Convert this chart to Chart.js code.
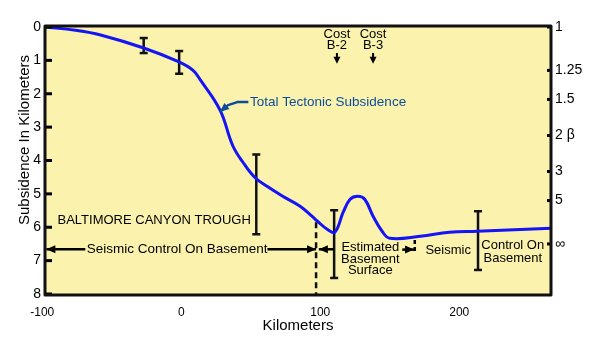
<!DOCTYPE html>
<html><head><meta charset="utf-8">
<script src="https://cdn.jsdelivr.net/npm/chart.js@4.4.1/dist/chart.umd.min.js"></script>
<style>html,body{margin:0;padding:0;background:#fff}#wrap{width:599px;height:355px}</style>
</head><body><div id="wrap"><canvas id="c" width="599" height="355"></canvas></div>
<script>
// ---- data ----
const distanceKm   = [-98, -76, -58, -27, -2, 8.5, 14, 28, 37, 44.5, 53, 62, 73, 85.5, 94, 98, 105, 110.5, 116.5, 121.5, 127, 132, 138, 144.5, 150, 172, 193, 213, 266];
const subsidenceKm = [0, 0.1, 0.24, 0.63, 1.04, 1.3, 1.6, 2.5, 3.55, 4.06, 4.51, 4.78, 5.07, 5.37, 5.67, 5.82, 6.06, 6.15, 5.55, 5.16, 5.07, 5.16, 5.67, 6.12, 6.33, 6.27, 6.15, 6.12, 6.03];
const errorBarKm   = [-27, -1.5, 54, 110, 213.5];
const errorBarLow  = [0.33, 0.72, 3.82, 5.49, 5.52];
const errorBarHigh = [0.78, 1.40, 6.21, 7.52, 7.28];
const depthTicks    = [0, 1, 2, 3, 4, 5, 6, 7, 8];
const distanceTicks = [-100, 0, 100, 200];
const betaTickDepth  = [0, 1.3, 2.17, 3.25, 4.33, 5.2, 6.5];
const betaTickLabels = ['1', '1.25', '1.5', '2 β', '3', '5', '∞'];
const wellNames = ['B-2', 'B-3'];
const wellKm    = [112, 138];
const controlBoundaryKm = 97;

const FONT = '"Liberation Sans", Arial, Helvetica, sans-serif';
const BLUE_TEXT = '#0b4c9c';

const notes = [
  {text:'Total Tectonic Subsidence', x:49.5, y:2.25, align:'left', color:BLUE_TEXT, size:13.5},
  {text:'BALTIMORE CANYON TROUGH', x:-89, y:5.8, align:'left', size:13},
  {text:'Seismic Control On Basement', x:-68, y:6.66, align:'left', size:13.5},
  {text:'Estimated', x:136, y:6.59, align:'center', size:13},
  {text:'Basement', x:136, y:6.95, align:'center', size:13},
  {text:'Surface', x:136, y:7.28, align:'center', size:13},
  {text:'Seismic', x:192, y:6.68, align:'center', size:13},
  {text:'Control On', x:238.5, y:6.53, align:'center', size:13},
  {text:'Basement', x:238.5, y:6.92, align:'center', size:13},
];
const arrows = [
  {pts:[[-69,6.66],[-97,6.66]], color:'#000'},
  {pts:[[62,6.66],[97,6.66]], color:'#000'},
  {pts:[[110,6.66],[99,6.66]], color:'#000'},
  {pts:[[159,6.67],[167.5,6.67]], color:'#000'},
  {pts:[[48.3,2.25],[40.3,2.25],[33.7,2.34],[27.9,2.54]], color:BLUE_TEXT},
];

const chartPlugin = {
  id: 'decor',
  beforeDraw(chart) {
    const {ctx, chartArea:a} = chart;
    ctx.save();
    ctx.fillStyle = '#faf2ad';
    ctx.fillRect(a.left, a.top, a.right - a.left, a.bottom - a.top);
    ctx.restore();
  },
  afterDatasetsDraw(chart) {
    const {ctx, chartArea:a, scales} = chart;
    const X = v => scales.x.getPixelForValue(v), Y = v => scales.y.getPixelForValue(v);
    ctx.save();
    ctx.textBaseline = 'middle';
    notes.forEach(n => {
      ctx.font = (n.size || 13) + 'px ' + FONT;
      ctx.fillStyle = n.color || '#000';
      ctx.textAlign = n.align || 'left';
      ctx.fillText(n.text, X(n.x), Y(n.y));
    });
    ctx.font = '13px ' + FONT; ctx.fillStyle = '#000'; ctx.textAlign = 'center';
    wellNames.forEach((w, i) => {
      ctx.fillText('Cost', X(wellKm[i]), Y(0.22));
      ctx.fillText(w, X(wellKm[i]), Y(0.56));
    });
    const head = (x1, y1, x2, y2, color, len, wid) => {
      const ang = Math.atan2(y2 - y1, x2 - x1);
      ctx.fillStyle = color;
      ctx.beginPath();
      ctx.moveTo(x2, y2);
      ctx.lineTo(x2 - len*Math.cos(ang) + wid*Math.sin(ang), y2 - len*Math.sin(ang) - wid*Math.cos(ang));
      ctx.lineTo(x2 - len*Math.cos(ang) - wid*Math.sin(ang), y2 - len*Math.sin(ang) + wid*Math.cos(ang));
      ctx.closePath(); ctx.fill();
    };
    arrows.forEach(ar => {
      const p = ar.pts.map(q => [X(q[0]), Y(q[1])]);
      ctx.strokeStyle = ar.color; ctx.lineWidth = 2.5; ctx.lineJoin = 'round';
      ctx.beginPath();
      p.forEach((q, i) => i ? ctx.lineTo(q[0], q[1]) : ctx.moveTo(q[0], q[1]));
      ctx.stroke();
      const n = p.length;
      head(p[n-2][0], p[n-2][1], p[n-1][0], p[n-1][1], ar.color, 9, 4);
    });
    wellKm.forEach(k => {
      ctx.strokeStyle = '#000'; ctx.lineWidth = 2;
      ctx.beginPath(); ctx.moveTo(X(k), Y(0.78)); ctx.lineTo(X(k), Y(0.95)); ctx.stroke();
      head(X(k), Y(0.78), X(k), Y(1.1), '#000', 7, 3.5);
    });
    ctx.strokeStyle = '#000'; ctx.lineWidth = 2.5; ctx.setLineDash([4, 3]);
    ctx.beginPath(); ctx.moveTo(X(168), Y(6.38)); ctx.lineTo(X(168), Y(6.78)); ctx.stroke();
    ctx.setLineDash([]);
    ctx.strokeStyle = '#000'; ctx.lineWidth = 3;
    scales.y.ticks.forEach(t => {
      const y = Y(t.value);
      ctx.beginPath(); ctx.moveTo(a.left, y); ctx.lineTo(a.left + 7, y); ctx.stroke();
    });
    scales.y2.ticks.forEach(t => {
      const y = scales.y2.getPixelForValue(t.value);
      ctx.beginPath(); ctx.moveTo(a.right - 4, y); ctx.lineTo(a.right + 1, y); ctx.stroke();
    });
    ctx.strokeStyle = '#111'; ctx.lineWidth = 3;
    ctx.strokeRect(a.left, a.top - 1, a.right - a.left, a.bottom - a.top + 2);
    ctx.translate(25, 140); ctx.rotate(-Math.PI / 2);
    ctx.font = '15px ' + FONT; ctx.fillStyle = '#000'; ctx.textAlign = 'center'; ctx.textBaseline = 'middle';
    ctx.fillText('Subsidence In Kilometers', 0, 0);
    ctx.restore();
  }
};

const curve = distanceKm.map((x, i) => ({x, y: subsidenceKm[i]}));
const errorSets = errorBarKm.map((x, i) => ({
  data: [{x, y: errorBarLow[i]}, {x, y: errorBarHigh[i]}],
  showLine: true, borderColor: '#111', borderWidth: 2.5,
  pointStyle: 'line', pointRadius: 4, pointBorderWidth: 2.5, pointBorderColor: '#111'
}));

new Chart(document.getElementById('c'), {
  type: 'scatter',
  data: {
    datasets: [
      {data: curve, showLine: true, borderColor: '#1414f5', borderWidth: 3, pointRadius: 0, tension: 0.4},
      {data: [{x: controlBoundaryKm, y: 5.85}, {x: controlBoundaryKm, y: 8}], showLine: true, borderColor: '#111', borderWidth: 2.5, borderDash: [6, 4], pointRadius: 0},
      ...errorSets
    ]
  },
  plugins: [chartPlugin],
  options: {
    responsive: false, animation: false,
    layout: {padding: {top: 27, bottom: 20, left: 0, right: 0}},
    plugins: {legend: {display: false}, tooltip: {enabled: false}},
    scales: {
      x: {
        type: 'linear', min: -98, max: 266,
        afterBuildTicks: s => { s.ticks = distanceTicks.map(v => ({value: v})); },
        afterFit: s => { s.height = 41; },
        grid: {display: false, drawTicks: false}, border: {display: false},
        ticks: {padding: 11, autoSkip: false, maxRotation: 0, color: '#000', font: {size: 12, family: FONT}},
        title: {display: true, text: 'Kilometers', color: '#000', font: {size: 15, family: FONT}, padding: {top: 0, bottom: 0}}
      },
      y: {
        position: 'left', min: 0, max: 8, reverse: true,
        afterBuildTicks: s => { s.ticks = depthTicks.map(v => ({value: v})); },
        afterFit: s => { s.width = 45; },
        grid: {display: false, drawTicks: false}, border: {display: false},
        ticks: {padding: 4, color: '#000', font: {size: 14, family: FONT}}
      },
      y2: {
        position: 'right', min: 0, max: 8, reverse: true,
        afterBuildTicks: s => { s.ticks = betaTickDepth.map(v => ({value: v})); },
        afterFit: s => { s.width = 48; },
        grid: {display: false, drawTicks: false}, border: {display: false},
        ticks: {padding: 4, color: '#000', font: {size: 14, family: FONT}, callback: (v, i) => betaTickLabels[i]}
      }
    }
  }
});
</script>
</body></html>
